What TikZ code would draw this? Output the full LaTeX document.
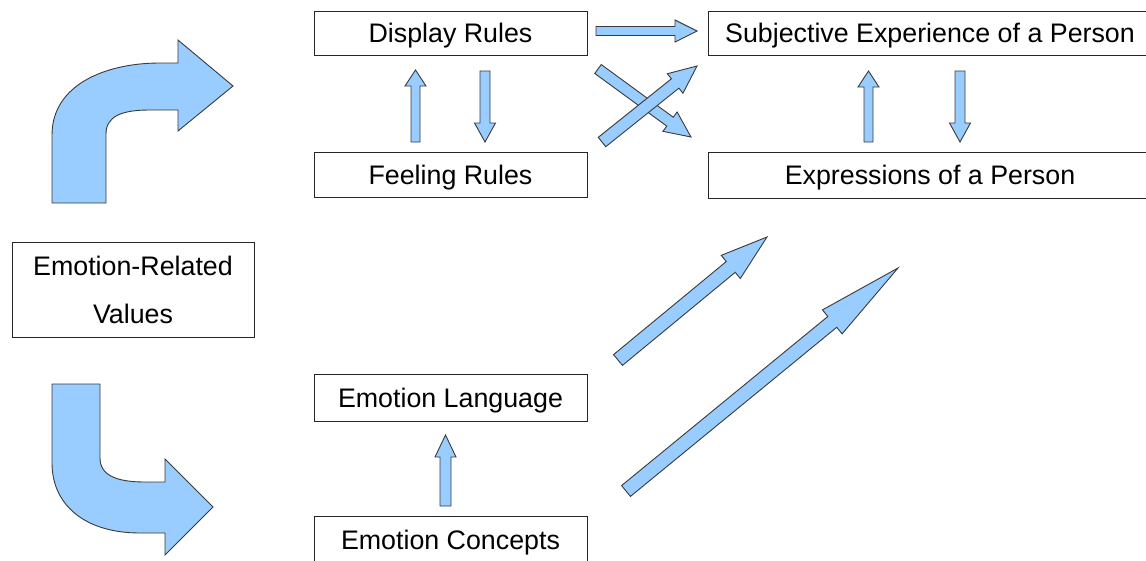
\documentclass[tikz,border=0pt]{standalone}
\usepackage{fontspec}
\setmainfont{Liberation Sans}
\usetikzlibrary{calc}
\definecolor{arrowblue}{HTML}{99CCFF}
\definecolor{edgegray}{HTML}{3A3A3A}
\tikzset{
  box/.style={draw=black!85, line width=1pt, rectangle, inner sep=0pt, align=center,
    font=\fontsize{26.8}{48}\selectfont},
  oneline/.style={text height=19.5pt, text depth=#1},
  oneline/.default=-4.4pt,
  blockarrow/.style={fill=arrowblue, draw=edgegray, line width=0.9pt, line join=miter},
}
% #1 tail, #2 tip, #3 shaft half width, #4 head half width, #5 head length
\newcommand\blockarrow[5]{%
  \coordinate (ba-t) at (#1);
  \coordinate (ba-h) at (#2);
  \coordinate (ba-b) at ($(ba-h)!#5!(ba-t)$);
  \path[blockarrow] ($(ba-t)!#3!90:(ba-h)$) -- ($(ba-b)!#3!90:(ba-h)$) --
    ($(ba-b)!#4!90:(ba-h)$) -- (ba-h) -- ($(ba-b)!#4!-90:(ba-h)$) --
    ($(ba-b)!#3!-90:(ba-h)$) -- ($(ba-t)!#3!-90:(ba-h)$) -- cycle;}
\begin{document}
\begin{tikzpicture}[x=1pt, y=-1pt]
\useasboundingbox (0,0) rectangle (1146,560);
\clip (0,0) rectangle (1146,560);
\fill[white] (0,0) rectangle (1146,560);

% boxes
\node[box, oneline, minimum width=273pt, minimum height=44pt] (disp) at (450.5,33) {Display Rules};
\node[box, oneline, minimum width=273pt, minimum height=45pt] (feel) at (450.5,174.5) {Feeling Rules};
\node[box, oneline, minimum width=444pt, minimum height=44pt] (subj) at (930,33) {Subjective Experience of a Person};
\node[box, oneline, minimum width=444pt, minimum height=46pt] (expr) at (930,175) {Expressions of a Person};
\node[box, text depth=-4pt, minimum width=242pt, minimum height=95pt] (erv) at (133,290) {Emotion-Related\\Values};
\node[box, oneline, minimum width=273pt, minimum height=47pt] (lang) at (450.5,397.5) {Emotion Language};
\node[box, oneline=-2.4pt, minimum width=273pt, minimum height=48pt] (conc) at (450.5,540) {Emotion Concepts};

% curved arrows
\path[blockarrow] (52,203) -- (52,135) .. controls (52,85) and (105,63) .. (160,63)
  -- (178,63) -- (178,40) -- (233,86) -- (178,131) -- (178,110) -- (150,110)
  .. controls (122,110) and (106,116) .. (106,134) -- (106,203) -- cycle;
\path[blockarrow] (52,384) -- (100,384) -- (100,458) .. controls (100,476) and (118,482) .. (145,482)
  -- (165,482) -- (165,459) -- (213,507) -- (165,555) -- (165,533) -- (140,533)
  .. controls (85,533) and (52,505) .. (52,463) -- cycle;

% straight block arrows
\blockarrow{596,31}{697,31}{4.5pt}{11pt}{22pt}
\blockarrow{415.5,142}{415.5,70}{4.5pt}{10.5pt}{16pt}
\blockarrow{485,71}{485,142}{5pt}{10.5pt}{19pt}
\blockarrow{868.5,142}{868.5,71}{4.5pt}{10.5pt}{16pt}
\blockarrow{960,71}{960,142}{5pt}{10.5pt}{19pt}
\blockarrow{445.5,506}{445.5,435}{5.5pt}{10.5pt}{22pt}
\blockarrow{598,69}{691,137}{5.5pt}{12pt}{26pt}
\blockarrow{602,142}{697,66}{6pt}{12.5pt}{28pt}
\blockarrow{618,360}{767,237}{7pt}{15pt}{47pt}
\blockarrow{626,491}{898,268}{7pt}{15.5pt}{85pt}
\end{tikzpicture}
\end{document}
